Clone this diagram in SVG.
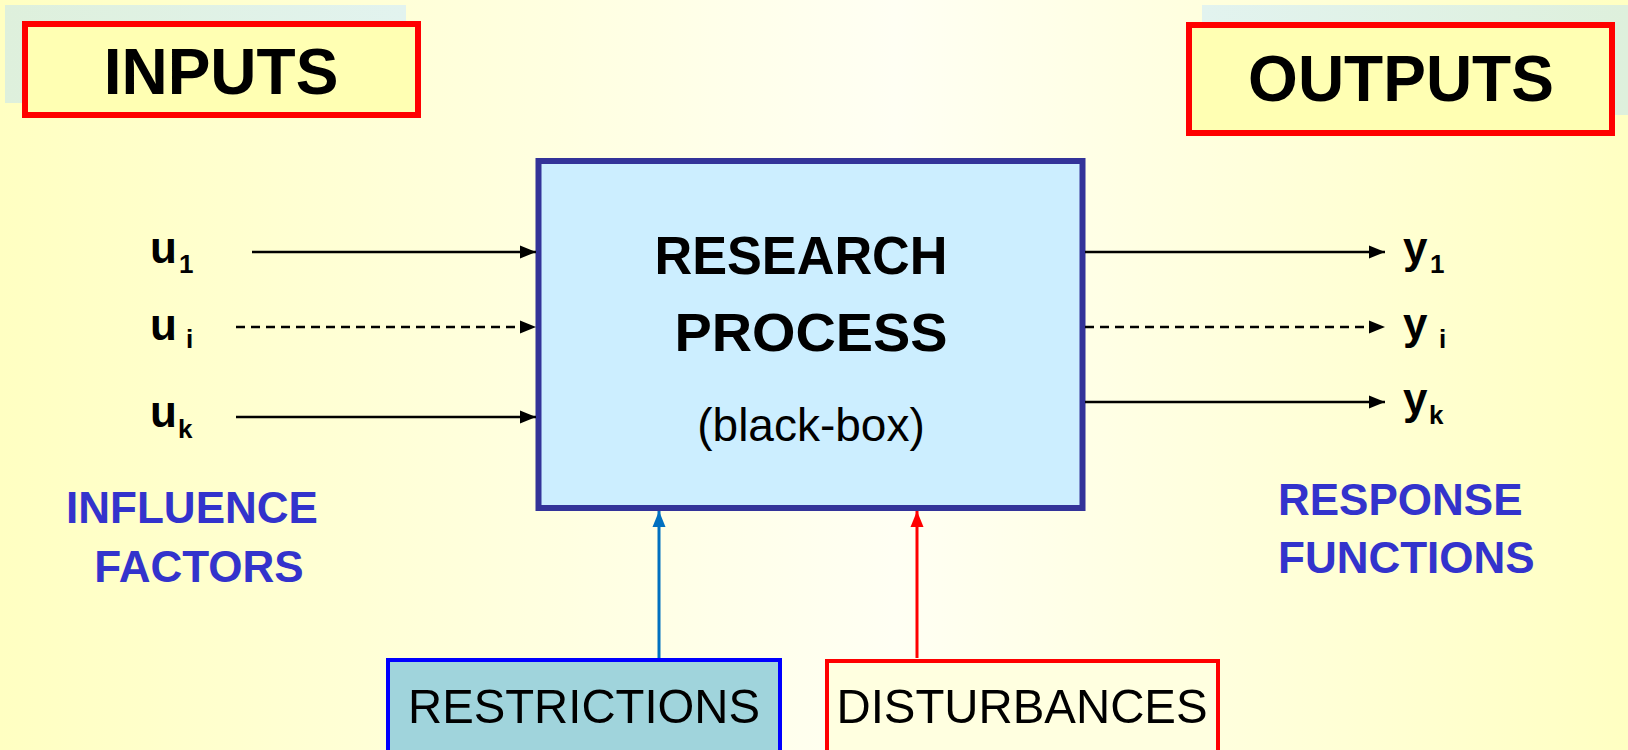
<svg xmlns="http://www.w3.org/2000/svg" width="1628" height="750" viewBox="0 0 1628 750">
<defs>
<linearGradient id="bg" x1="0" y1="0" x2="1" y2="0">
<stop offset="0" stop-color="#ffffc2"/>
<stop offset="0.55" stop-color="#fffff3"/>
<stop offset="1" stop-color="#ffffc2"/>
</linearGradient>
<linearGradient id="shadeL" x1="0" y1="0" x2="1" y2="0">
<stop offset="0" stop-color="#def0dc"/>
<stop offset="1" stop-color="#e2f3ef"/>
</linearGradient>
<linearGradient id="shadeR" x1="0" y1="0" x2="1" y2="0">
<stop offset="0" stop-color="#e2f3ef"/>
<stop offset="1" stop-color="#def0dc"/>
</linearGradient>
<marker id="ah" markerUnits="userSpaceOnUse" markerWidth="17" markerHeight="14" refX="16" refY="7" orient="auto">
<path d="M0,0.5 L16,7 L0,13.5 Z" fill="#000"/>
</marker>
<marker id="ahBlue" markerUnits="userSpaceOnUse" markerWidth="17" markerHeight="14" refX="16" refY="7" orient="auto">
<path d="M0,0.5 L16,7 L0,13.5 Z" fill="#0070c0"/>
</marker>
<marker id="ahRed" markerUnits="userSpaceOnUse" markerWidth="17" markerHeight="14" refX="16" refY="7" orient="auto">
<path d="M0,0.5 L16,7 L0,13.5 Z" fill="#ff0000"/>
</marker>
</defs>
<style>
.t{font-family:"Liberation Sans",Arial,sans-serif;}
.b{font-weight:bold;}
.hdr{font-size:64px;font-weight:bold;fill:#000;}
.var{font-size:44px;font-weight:bold;fill:#000;}
.sub{font-size:26px;font-weight:bold;fill:#000;}
.lbl{font-size:44px;font-weight:bold;fill:#3333cc;}
.ln{stroke:#000;stroke-width:2.5;fill:none;marker-end:url(#ah);}
.dash{stroke-dasharray:9 6;}
</style>
<rect x="0" y="0" width="1628" height="750" fill="url(#bg)"/>

<g id="inputs">
<rect x="5" y="5" width="401" height="98" fill="url(#shadeL)"/>
<rect x="25" y="24" width="393" height="91" fill="#ffffb3" stroke="#ff0000" stroke-width="6"/>
<text class="t hdr" x="221" y="94" text-anchor="middle">INPUTS</text>
</g>

<g id="outputs">
<rect x="1202" y="5" width="426" height="110" fill="url(#shadeR)"/>
<rect x="1189" y="25" width="423" height="108" fill="#ffffb3" stroke="#ff0000" stroke-width="6"/>
<text class="t hdr" x="1401" y="101" text-anchor="middle">OUTPUTS</text>
</g>

<g id="process">
<rect x="538.5" y="161" width="544" height="347" fill="#cceeff" stroke="#333399" stroke-width="6"/>
<text class="t b" x="801" y="274" font-size="53" text-anchor="middle" textLength="293" lengthAdjust="spacingAndGlyphs">RESEARCH</text>
<text class="t b" x="811" y="351" font-size="53" text-anchor="middle" textLength="273" lengthAdjust="spacingAndGlyphs">PROCESS</text>
<text class="t" x="811" y="441" font-size="46" text-anchor="middle">(black-box)</text>
</g>

<g id="u1"><text class="t var" x="150" y="263">u</text><text class="t sub" x="179" y="273">1</text></g>
<g id="ui"><text class="t var" x="150" y="340">u</text><text class="t sub" x="186" y="348">i</text></g>
<g id="uk"><text class="t var" x="150" y="427">u</text><text class="t sub" x="178" y="438">k</text></g>

<g id="y1"><text class="t var" x="1403" y="263">y</text><text class="t sub" x="1430" y="273">1</text></g>
<g id="yi"><text class="t var" x="1403" y="339">y</text><text class="t sub" x="1439" y="348">i</text></g>
<g id="yk"><text class="t var" x="1403" y="414">y</text><text class="t sub" x="1429" y="424">k</text></g>

<g id="influence-factors">
<text class="t lbl" x="192" y="523" text-anchor="middle">INFLUENCE</text>
<text class="t lbl" x="199" y="582" text-anchor="middle">FACTORS</text>
</g>

<g id="response-functions">
<text class="t lbl" x="1278" y="515">RESPONSE</text>
<text class="t lbl" x="1278" y="573">FUNCTIONS</text>
</g>

<g id="restrictions">
<rect x="388" y="660" width="392" height="94" fill="#a0d4dc" stroke="#0000ff" stroke-width="4"/>
<text class="t" x="584" y="723" font-size="49" text-anchor="middle" textLength="352" lengthAdjust="spacingAndGlyphs">RESTRICTIONS</text>
</g>

<g id="disturbances">
<rect x="827" y="661" width="391" height="93" fill="#ffffe0" stroke="#ff0000" stroke-width="4"/>
<text class="t" x="1022" y="723" font-size="49" text-anchor="middle" textLength="371" lengthAdjust="spacingAndGlyphs">DISTURBANCES</text>
</g>

<g id="connectors">
<line class="ln" x1="252" y1="252" x2="536" y2="252"/>
<line class="ln dash" x1="236" y1="327" x2="536" y2="327"/>
<line class="ln" x1="236" y1="417" x2="536" y2="417"/>
<line class="ln" x1="1085" y1="252" x2="1385" y2="252"/>
<line class="ln dash" x1="1085" y1="327" x2="1385" y2="327"/>
<line class="ln" x1="1085" y1="402" x2="1385" y2="402"/>
<line x1="659" y1="658" x2="659" y2="511" stroke="#0070c0" stroke-width="3" marker-end="url(#ahBlue)"/>
<line x1="917" y1="658" x2="917" y2="511" stroke="#ff0000" stroke-width="3" marker-end="url(#ahRed)"/>
</g>
</svg>
